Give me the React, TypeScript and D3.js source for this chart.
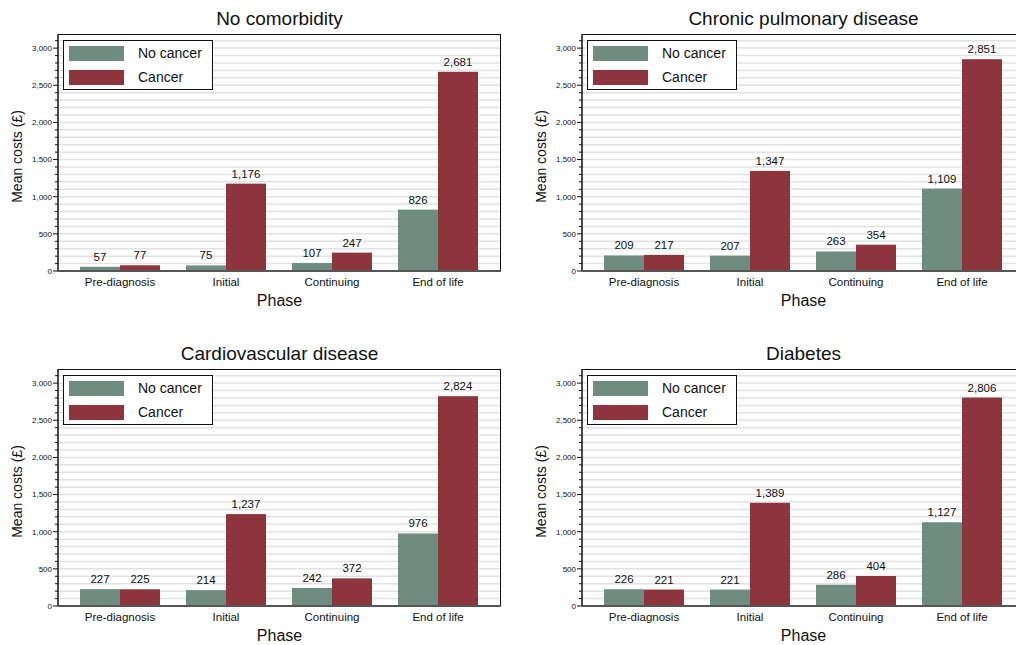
import { useEffect, useRef } from "react";
import * as d3 from "d3";

const phases = ["Pre-diagnosis", "Initial", "Continuing", "End of life"];
const seriesNames = ["No cancer", "Cancer"];
const colors = ["#6e8d80", "#8e343d"];

const panelTitles = ["No comorbidity", "Chronic pulmonary disease", "Cardiovascular disease", "Diabetes"];
const noCancer = [
  [57, 75, 107, 826],
  [209, 207, 263, 1109],
  [227, 214, 242, 976],
  [226, 221, 286, 1127],
];
const withCancer = [
  [77, 1176, 247, 2681],
  [217, 1347, 354, 2851],
  [225, 1237, 372, 2824],
  [221, 1389, 404, 2806],
];
const yTicks = [0, 500, 1000, 1500, 2000, 2500, 3000];

export default function App() {
  const svgRef = useRef<SVGSVGElement | null>(null);

  useEffect(() => {
    if (!svgRef.current) return;
    const svg = d3.select(svgRef.current);
    svg.selectAll("*").remove();

    const width = 1016;
    const height = 645;
    const pw = 443;
    const ph = 237;
    const origins = [
      { x: 58, y: 34 },
      { x: 582, y: 34 },
      { x: 58, y: 369 },
      { x: 582, y: 369 },
    ];
    const font = "Liberation Sans, Arial, sans-serif";

    svg.attr("width", width).attr("height", height).style("font-family", font);
    svg.append("rect").attr("width", width).attr("height", height).attr("fill", "white");

    panelTitles.forEach((title, i) => {
      const o = origins[i];
      const g = svg.append("g").attr("transform", `translate(${o.x},${o.y})`);

      const x = d3.scaleBand().domain(phases).range([22, 420]).paddingInner(0.245).paddingOuter(0);
      const xs = d3.scaleBand().domain(seriesNames).range([0, x.bandwidth()]);
      const y = d3.scaleLinear().domain([0, 3190]).range([ph, 0]);

      // gridlines every 100
      g.append("g")
        .selectAll("line")
        .data(d3.range(100, 3200, 100))
        .join("line")
        .attr("x1", 0)
        .attr("x2", pw)
        .attr("y1", (d) => y(d))
        .attr("y2", (d) => y(d))
        .attr("stroke", "#e2e2e2")
        .attr("stroke-width", 1.5);

      // bars
      const rows = phases.map((p, j) => ({ phase: p, vals: [noCancer[i][j], withCancer[i][j]] }));
      const grp = g
        .selectAll("g.grp")
        .data(rows)
        .join("g")
        .attr("class", "grp")
        .attr("transform", (d) => `translate(${x(d.phase)},0)`);

      grp
        .selectAll("rect")
        .data((d) => d.vals.map((v, k) => ({ v, k })))
        .join("rect")
        .attr("x", (d) => xs(seriesNames[d.k])!)
        .attr("y", (d) => y(d.v))
        .attr("width", xs.bandwidth())
        .attr("height", (d) => ph - y(d.v))
        .attr("fill", (d) => colors[d.k]);

      grp
        .selectAll("text")
        .data((d) => d.vals.map((v, k) => ({ v, k })))
        .join("text")
        .attr("x", (d) => xs(seriesNames[d.k])! + xs.bandwidth() / 2)
        .attr("y", (d) => y(d.v) - 6)
        .attr("text-anchor", "middle")
        .attr("font-size", 11.5)
        .attr("fill", "#111")
        .text((d) => d3.format(",")(d.v));

      // frame
      g.append("line").attr("x1", 0).attr("x2", pw).attr("y1", 0.5).attr("y2", 0.5).attr("stroke", "#111");
      g.append("line").attr("x1", pw - 0.5).attr("x2", pw - 0.5).attr("y1", 0).attr("y2", ph).attr("stroke", "#111");

      // y axis
      const ya = g.append("g");
      ya.append("line").attr("x1", 0).attr("x2", 0).attr("y1", 0).attr("y2", ph).attr("stroke", "#111").attr("stroke-width", 1.5);
      ya.selectAll("line.minor")
        .data(d3.range(100, 3200, 100).filter((v) => v % 500 !== 0))
        .join("line")
        .attr("class", "minor")
        .attr("x1", -3)
        .attr("x2", 0)
        .attr("y1", (d) => y(d))
        .attr("y2", (d) => y(d))
        .attr("stroke", "#111");
      ya.selectAll("line.major")
        .data(yTicks)
        .join("line")
        .attr("class", "major")
        .attr("x1", -5)
        .attr("x2", 0)
        .attr("y1", (d) => y(d))
        .attr("y2", (d) => y(d))
        .attr("stroke", "#111");
      ya.selectAll("text")
        .data(yTicks)
        .join("text")
        .attr("x", -6)
        .attr("y", (d) => y(d))
        .attr("dy", "0.35em")
        .attr("text-anchor", "end")
        .attr("font-size", 8)
        .attr("fill", "#111")
        .text((d) => d3.format(",")(d));

      // x axis
      g.append("line").attr("x1", 0).attr("x2", pw).attr("y1", ph).attr("y2", ph).attr("stroke", "#555").attr("stroke-width", 2);
      g.selectAll("text.xt")
        .data(phases)
        .join("text")
        .attr("class", "xt")
        .attr("x", (d) => x(d)! + x.bandwidth() / 2)
        .attr("y", ph + 15)
        .attr("text-anchor", "middle")
        .attr("font-size", 11.5)
        .attr("fill", "#111")
        .text((d) => d);

      g.append("text")
        .attr("x", pw / 2)
        .attr("y", ph + 35)
        .attr("text-anchor", "middle")
        .attr("font-size", 16)
        .attr("fill", "#111")
        .text("Phase");

      g.append("text")
        .attr("transform", "rotate(-90)")
        .attr("x", -ph / 2 - 4)
        .attr("y", -36)
        .attr("text-anchor", "middle")
        .attr("font-size", 14)
        .attr("fill", "#111")
        .text("Mean costs (£)");

      g.append("text")
        .attr("x", pw / 2)
        .attr("y", -9)
        .attr("text-anchor", "middle")
        .attr("font-size", 19)
        .attr("fill", "#111")
        .text(title);

      // legend
      const lg = g.append("g").attr("transform", "translate(5,6)");
      lg.append("rect").attr("x", 0.5).attr("y", 0.5).attr("width", 149).attr("height", 49).attr("fill", "white").attr("stroke", "#111");
      seriesNames.forEach((s, k) => {
        lg.append("rect").attr("x", 6).attr("y", 6 + k * 24).attr("width", 55).attr("height", 15).attr("fill", colors[k]);
        lg.append("text")
          .attr("x", 75)
          .attr("y", 13.5 + k * 24)
          .attr("dy", "0.35em")
          .attr("font-size", 14)
          .attr("fill", "#111")
          .text(s);
      });
    });
  }, []);

  return <svg ref={svgRef} style={{ position: "absolute", left: 0, top: 0 }}></svg>;
}
